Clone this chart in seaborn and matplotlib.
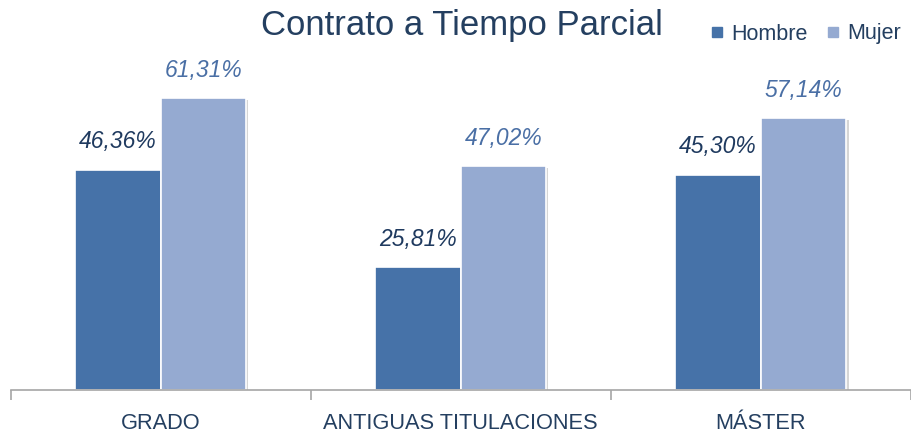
import pandas as pd
import matplotlib
matplotlib.use("Agg")
import matplotlib.pyplot as plt
import seaborn as sns
from matplotlib.lines import Line2D
from matplotlib import patheffects as pe

categorias = ["GRADO", "ANTIGUAS TITULACIONES", "MÁSTER"]
hombre = [46.36, 25.81, 45.30]
mujer = [61.31, 47.02, 57.14]
sexos = ["Hombre", "Mujer"]

col_hombre = "#4672A8"
col_mujer = "#95AAD1"
navy = "#243F60"

df = pd.DataFrame({
    "categoria": categorias * 2,
    "sexo": ["Hombre"] * 3 + ["Mujer"] * 3,
    "valor": hombre + mujer,
})

sns.set_style("white")
plt.rcParams["font.family"] = ["Liberation Sans", "DejaVu Sans"]

fig = plt.figure(figsize=(9.11, 4.34), dpi=100)
ax = fig.add_axes([10.5 / 911, 44 / 434, 900.5 / 911, 390 / 434])

sns.barplot(data=df, x="categoria", y="valor", hue="sexo", hue_order=sexos,
            palette=[col_hombre, col_mujer], width=0.57, saturation=1,
            edgecolor="white", linewidth=1.2, legend=False, ax=ax)

for p in ax.patches:
    p.set_path_effects([pe.SimplePatchShadow(offset=(1.5, -1.5), shadow_rgbFace="#888888", alpha=0.35),
                        pe.Normal()])

# etiquetas de datos
etiquetas = {"Hombre": hombre, "Mujer": mujer}
colores_lab = {"Hombre": "#1F3A5F", "Mujer": "#4A6FA5"}
for cont, s in zip(ax.containers, sexos):
    labs = [f"{v:.2f}%".replace(".", ",") for v in etiquetas[s]]
    ax.bar_label(cont, labels=labs, padding=12, fontsize=16.5, fontstyle="italic",
                 color=colores_lab[s])

ax.set_xlim(-0.5, 2.5)
ax.set_ylim(0, 82.0)
ax.set_xlabel("")
ax.set_ylabel("")
ax.set_yticks([])
for side in ["top", "right", "left"]:
    ax.spines[side].set_visible(False)
ax.spines["bottom"].set_color("#A6A6A6")
ax.spines["bottom"].set_linewidth(1.2)

ax.set_xticks([-0.5, 0.5, 1.5, 2.5], minor=True)
ax.tick_params(axis="x", which="minor", bottom=True, length=7, width=1.2,
               color="#A6A6A6", direction="out")
ax.tick_params(axis="x", which="major", length=0, pad=16.5)
for t in ax.get_xticklabels():
    t.set_fontsize(15.7)
    t.set_color(navy)

fig.text(461.5 / 911, 1 - 35 / 434, "Contrato a Tiempo Parcial", ha="center", va="baseline",
         fontsize=25, color=navy)

handles = [Line2D([], [], marker="s", linestyle="", markersize=7.5, color=c) for c in [col_hombre, col_mujer]]
ax.legend(handles, sexos, loc="center", bbox_to_anchor=(806 / 911, 1 - 34 / 434),
          bbox_transform=fig.transFigure, ncol=2, frameon=False, handlelength=0.6,
          handletextpad=0.35, columnspacing=0.9, prop={"size": 15.5},
          labelcolor=navy)

fig.savefig("out.png", dpi=100)
